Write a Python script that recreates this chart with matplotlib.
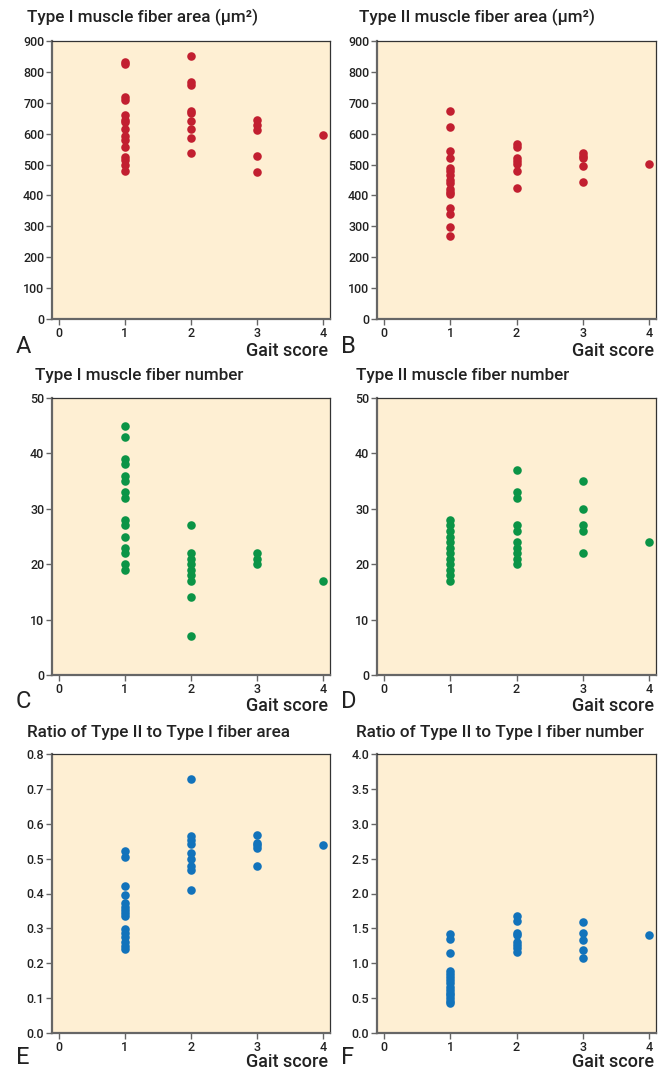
import matplotlib.pyplot as plt

BG = "#FEEFD3"
RED = "#C21F30"
GREEN = "#0B9446"
BLUE = "#1273BB"

plt.rcParams["font.family"] = ["Roboto", "Liberation Sans", "DejaVu Sans"]

# values by gait score (1..4)
type1_area = {1: [832, 826, 718, 710, 662, 645, 637, 615, 594, 579, 557, 524, 516, 499, 480],
              2: [850, 768, 759, 675, 666, 640, 615, 587, 537],
              3: [645, 627, 613, 528, 477],
              4: [597]}
type2_area = {1: [673, 623, 545, 520, 489, 478, 467, 450, 441, 422, 411, 404, 358, 340, 297, 269],
              2: [565, 557, 522, 512, 502, 479, 425],
              3: [536, 528, 520, 494, 442],
              4: [501]}
type1_num = {1: [45, 43, 39, 38, 36, 35, 33, 32, 28, 27, 25, 23, 22, 20, 19],
             2: [27, 22, 21, 20, 19, 18, 17, 14, 7],
             3: [22, 21, 20],
             4: [17]}
type2_num = {1: [28, 27, 26, 25, 24, 23, 22, 21, 20, 19, 18, 17],
             2: [37, 33, 32, 27, 26, 24, 23, 22, 21, 20],
             3: [35, 30, 27, 26, 22],
             4: [24]}
ratio_area = {1: [0.521, 0.504, 0.422, 0.395, 0.372, 0.362, 0.352, 0.343, 0.335,
                  0.297, 0.286, 0.276, 0.261, 0.250, 0.241],
              2: [0.727, 0.566, 0.553, 0.541, 0.515, 0.498, 0.478, 0.467, 0.410],
              3: [0.568, 0.546, 0.538, 0.530, 0.478],
              4: [0.540]}
ratio_num = {1: [1.42, 1.35, 1.14, 0.89, 0.85, 0.80, 0.76, 0.71, 0.66, 0.62,
                 0.58, 0.54, 0.50, 0.46, 0.43],
             2: [1.68, 1.60, 1.43, 1.40, 1.30, 1.26, 1.22, 1.16],
             3: [1.59, 1.43, 1.34, 1.19, 1.08],
             4: [1.41]}

W, H = 671, 1069
fig = plt.figure(figsize=(W / 100, H / 100), dpi=100)


def px_axes(left, top, right, bottom):
    return fig.add_axes([left / W, 1 - bottom / H, (right - left) / W, (bottom - top) / H])


def panel(box, data, color, ylim, yticks, yfmt, title, title_x, title_y, letter, foot_y):
    ax = px_axes(*box)
    ax.set_facecolor(BG)
    for g, vals in data.items():
        ax.scatter([g] * len(vals), vals, s=38, color=color, linewidths=0, zorder=3)
    ax.set_xlim(-0.1, 4.1)
    ax.set_ylim(*ylim)
    ax.set_xticks([0, 1, 2, 3, 4])
    ax.set_xticklabels(["0", "1", "2", "3", "4"], fontweight="medium")
    ax.set_yticks(yticks)
    ax.set_yticklabels([yfmt.format(t) for t in yticks], fontweight="medium")
    ax.tick_params(direction="out", length=4, width=1, color="#666666",
                   labelsize=9, labelcolor="#222222", pad=1.5)
    for s in ("left", "bottom"):
        ax.spines[s].set_color("#666666")
        ax.spines[s].set_linewidth(1.6)
    for s in ("top", "right"):
        ax.spines[s].set_color("#333333")
        ax.spines[s].set_linewidth(0.9)
    fig.text(title_x / W, 1 - title_y / H, title, fontsize=12.3, fontweight="medium",
             color="#222222", va="baseline", ha="left")
    fig.text((box[0] - 36) / W, 1 - foot_y / H, letter, fontsize=17,
             color="#222222", va="baseline", ha="left")
    fig.text((box[2] - 2) / W, 1 - (foot_y + 3) / H, "Gait score", fontsize=13,
             fontweight="medium", color="#222222", va="baseline", ha="right")
    return ax


panel((52, 41, 330, 319), type1_area, RED, (0, 900), list(range(0, 901, 100)), "{:d}",
      "Type I muscle fiber area (\u03bcm\u00b2)", 27, 22, "A", 353)
panel((377, 41, 656, 319), type2_area, RED, (0, 900), list(range(0, 901, 100)), "{:d}",
      "Type II muscle fiber area (\u03bcm\u00b2)", 359, 22, "B", 353)
panel((52, 398, 330, 675), type1_num, GREEN, (0, 50), list(range(0, 51, 10)), "{:d}",
      "Type I muscle fiber number", 35, 380, "C", 708)
panel((377, 398, 656, 675), type2_num, GREEN, (0, 50), list(range(0, 51, 10)), "{:d}",
      "Type II muscle fiber number", 356, 380, "D", 708)
panel((52, 754, 330, 1033), ratio_area, BLUE, (0, 0.8), [i / 10 for i in range(9)], "{:.1f}",
      "Ratio of Type II to Type I fiber area", 27, 737, "E", 1064)
panel((377, 754, 656, 1033), ratio_num, BLUE, (0, 4.0), [i / 2 for i in range(9)], "{:.1f}",
      "Ratio of Type II to Type I fiber number", 356, 737, "F", 1064)

fig.savefig("out.png", dpi=100, facecolor="white")
